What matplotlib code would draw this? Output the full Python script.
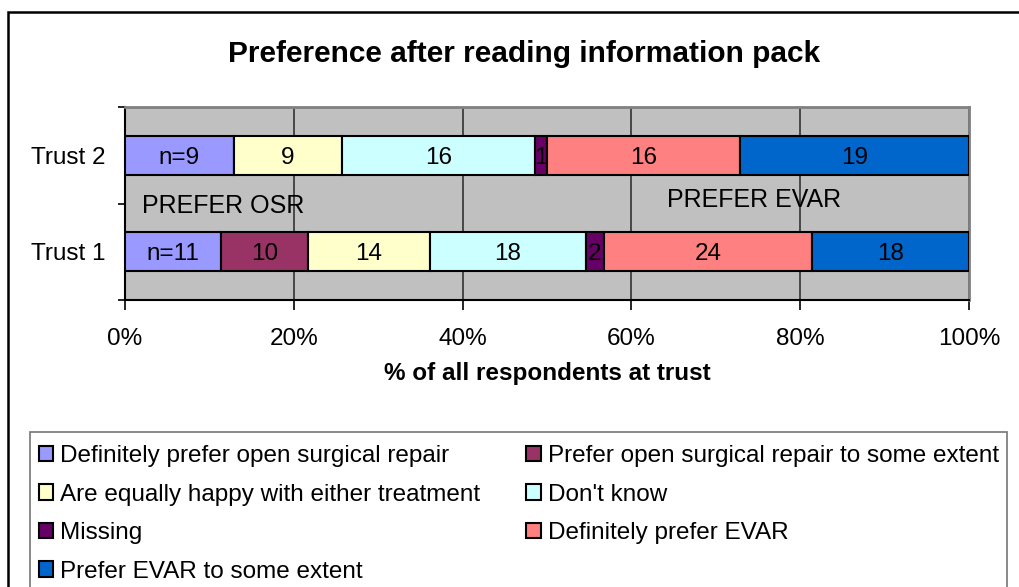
import matplotlib
matplotlib.use("Agg")
import matplotlib.pyplot as plt
import numpy as np
from matplotlib.patches import Rectangle

plt.rcParams['font.family'] = ['Liberation Sans', 'DejaVu Sans']

categories = ['Trust 1', 'Trust 2']
series_names = [
    'Definitely prefer open surgical repair',
    'Prefer open surgical repair to some extent',
    'Are equally happy with either treatment',
    "Don't know",
    'Missing',
    'Definitely prefer EVAR',
    'Prefer EVAR to some extent',
]
def_osr = [11, 9]
some_osr = [10, 0]
equal = [14, 9]
dont_know = [18, 16]
missing = [2, 1]
def_evar = [24, 16]
some_evar = [18, 19]
series_values = [def_osr, some_osr, equal, dont_know, missing, def_evar, some_evar]
colors = ['#9999FF', '#993366', '#FFFFCC', '#CCFFFF', '#660066', '#FF8080', '#0066CC']
xticks = [0, 0.2, 0.4, 0.6, 0.8, 1.0]
xtick_labels = ['0%', '20%', '40%', '60%', '80%', '100%']

W, H = 1020, 587
fig = plt.figure(figsize=(W / 100, H / 100), dpi=100)
fig.patch.set_facecolor('white')

def fx(px):
    return px / W

def fy(py):
    return 1 - py / H

# outer chart border
fig.patches.append(Rectangle((fx(8), -0.1), 1.2, fy(12) + 0.1, transform=fig.transFigure,
                             fill=False, edgecolor='black', linewidth=1.8, zorder=0))

ax = fig.add_axes([fx(125), fy(300), fx(969) - fx(125), fy(107) - fy(300)])
ax.set_facecolor('#C0C0C0')

vals = np.array(series_values, dtype=float)
totals = vals.sum(axis=0)
fracs = vals / totals
ypos = np.arange(len(categories))
left = np.zeros(len(categories))
containers = []
for i, (name, f) in enumerate(zip(series_names, fracs)):
    bc = ax.barh(ypos, f, left=left, height=0.4, color=colors[i], edgecolor='black',
                 linewidth=1.5, label=name, zorder=3)
    containers.append(bc)
    labs = []
    for j, v in enumerate(vals[i]):
        if v == 0:
            labs.append('')
        elif i == 0:
            labs.append('n=%d' % v)
        else:
            labs.append('%d' % v)
    anns = ax.bar_label(bc, labels=labs, label_type='center', fontsize=17.5, color='black',
                        zorder=4)
    for a in anns:
        a.set_verticalalignment('center_baseline')
    left = left + f

ax.set_xlim(0, 1)
ax.set_ylim(-0.5, 1.5)
ax.set_xticks(xticks)
ax.set_xticklabels(xtick_labels, fontsize=17.5)
ax.set_yticks(ypos)
ax.set_yticklabels(categories, fontsize=17.5)
ax.set_yticks([-0.5, 0.5, 1.5], minor=True)
ax.tick_params(axis='y', which='major', length=0, pad=14)
ax.tick_params(axis='y', which='minor', length=5, width=1.2, direction='out', color='black')
ax.tick_params(axis='x', which='major', length=7, width=1.2, direction='out', pad=13, color='black')
ax.xaxis.grid(True, color='#333333', linewidth=1.2, zorder=1)
ax.set_axisbelow(True)
for s in ['left', 'bottom']:
    ax.spines[s].set_color('black')
    ax.spines[s].set_linewidth(1.5)
for s in ['top', 'right']:
    ax.spines[s].set_color('#808080')
    ax.spines[s].set_linewidth(2)

ax.text(0.02, 0.505, 'PREFER OSR', fontsize=18, va='center_baseline', ha='left', zorder=2)
ax.text(0.642, 0.557, 'PREFER EVAR', fontsize=18, va='center_baseline', ha='left', zorder=2)

fig.text(fx(524), fy(54), 'Preference after reading information pack', fontsize=21.5,
         fontweight='bold', ha='center', va='center')
ax.set_xlabel('% of all respondents at trust', fontsize=17.5, fontweight='bold', labelpad=9)

# legend box
fig.patches.append(Rectangle((fx(30), -0.1), fx(1007) - fx(30), fy(432) + 0.1,
                             transform=fig.transFigure, facecolor='white',
                             edgecolor='#808080', linewidth=1.3, zorder=1))
order = [0, 2, 4, 6, 1, 3, 5]
handles = [containers[k] for k in order]
labels = [series_names[k] for k in order]
leg = fig.legend(handles, labels, loc='upper left', bbox_to_anchor=(fx(39), fy(445)),
                 ncol=2, frameon=False, fontsize=17.5, borderpad=0, borderaxespad=0,
                 handlelength=0.58, handleheight=0.58, handletextpad=0.29,
                 columnspacing=1.9, labelspacing=0.68)
leg.set_zorder(5)

fig.savefig('out.png', dpi=100)
